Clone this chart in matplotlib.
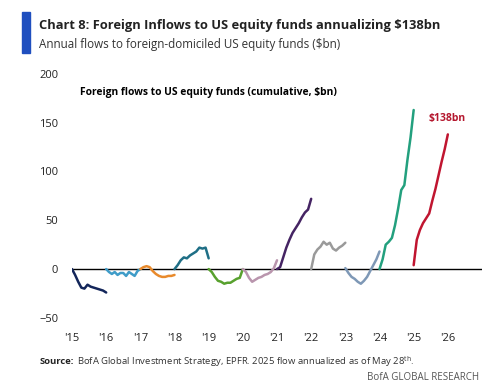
import numpy as np
import matplotlib.pyplot as plt
from matplotlib.patches import Rectangle

plt.rcParams['font.family'] = ['Open Sans', 'DejaVu Sans']
plt.rcParams['mathtext.default'] = 'regular'

# cumulative flows within each calendar year ($bn)
years = [2015, 2016, 2017, 2018, 2019, 2020, 2021, 2022, 2023, 2024, 2025]
flows = {
    2015: [0, -6, -13, -19, -20, -16, -18, -19, -20, -21, -22, -24],
    2016: [0, -3, -5, -3, -6, -4, -4, -7, -3, -5, -7, -2, 0],
    2017: [0, 2, 3, 2, -2, -5, -7, -8, -8, -7, -7, -6],
    2018: [0, 4, 9, 12, 11, 14, 16, 18, 22, 21, 22, 11],
    2019: [0, -3, -8, -12, -13, -15, -14, -14, -12, -10, -9, 0],
    2020: [0, -3, -9, -13, -11, -9, -8, -6, -5, -3, 1, 9],
    2021: [0, 2, 12, 22, 30, 37, 42, 47, 53, 58, 61, 72],
    2022: [0, 15, 20, 23, 28, 25, 27, 21, 19, 22, 24, 27],
    2023: [1, -4, -8, -10, -13, -15, -12, -8, -2, 4, 10, 18],
    2024: [0, 10, 25, 28, 32, 45, 62, 81, 86, 112, 135, 163],
    2025: [4, 30, 40, 47, 52, 57, 70, 82, 96, 110, 123, 138],
}
colors = ['#13265a', '#3f9cc8', '#e88a2c', '#1f6f86', '#58a12e', '#b995ad',
          '#452463', '#9a9a9a', '#7e98b6', '#23a07e', '#c01530']
yticks = [-50, 0, 50, 100, 150, 200]
xticks = list(range(2015, 2027))
xlabels = ["'%d" % (y % 100) for y in xticks]

fig = plt.figure(figsize=(5, 3.91), dpi=100)
ax = fig.add_axes([0.144, 0.187, 0.82, 0.624])

ax.plot([2015, 2027], [0, 0], color='black', lw=1)
for yr, c in zip(years, colors):
    v = flows[yr]
    x = yr + np.linspace(0, 1, len(v))
    ax.plot(x, v, color=c, lw=1.8, solid_capstyle='round')

ax.text(2025.45, 154, '$138bn', color='#b5182f', fontsize=7.5,
        fontweight='bold', ha='left', va='center')
ax.text(2015.22, 181, 'Foreign flows to US equity funds (cumulative, $bn)',
        fontsize=7.4, fontweight='bold', ha='left', va='center')

ax.set_xlim(2015, 2027)
ax.set_ylim(-50, 200)
ax.set_yticks(yticks)
ax.set_xticks(xticks)
ax.set_xticklabels(xlabels)
ax.tick_params(length=0, labelsize=8, colors='#222222')
ax.tick_params(axis='x', pad=11)
ax.tick_params(axis='y', pad=10)
for s in ax.spines.values():
    s.set_visible(False)

fig.patches.append(Rectangle((0.044, 0.865), 0.016, 0.105, transform=fig.transFigure,
                             color='#1f4fbf', zorder=5))
fig.text(0.078, 0.935, 'Chart 8: Foreign Inflows to US equity funds annualizing $138bn',
         fontsize=9.3, fontweight='bold', color='#222222', va='center', ha='left')
fig.text(0.078, 0.885, 'Annual flows to foreign-domiciled US equity funds ($bn)',
         fontsize=8.4, color='#333333', va='center', ha='left')

# source line: bold label followed by regular text
src = fig.text(0.08, 0.075, 'Source:', fontsize=6.8, fontweight='bold',
               color='#222222', va='center', ha='left')
r = fig.canvas.get_renderer()
w = src.get_window_extent(r).width / fig.bbox.width
fig.text(0.08 + w + 0.005, 0.075,
         'BofA Global Investment Strategy, EPFR. 2025 flow annualized as of May 28$^{th}$.',
         fontsize=6.8, color='#333333', va='center', ha='left')
fig.text(0.958, 0.035, 'BofA GLOBAL RESEARCH', fontsize=7, color='#555555',
         va='center', ha='right')

fig.savefig('out.png', dpi=100)
